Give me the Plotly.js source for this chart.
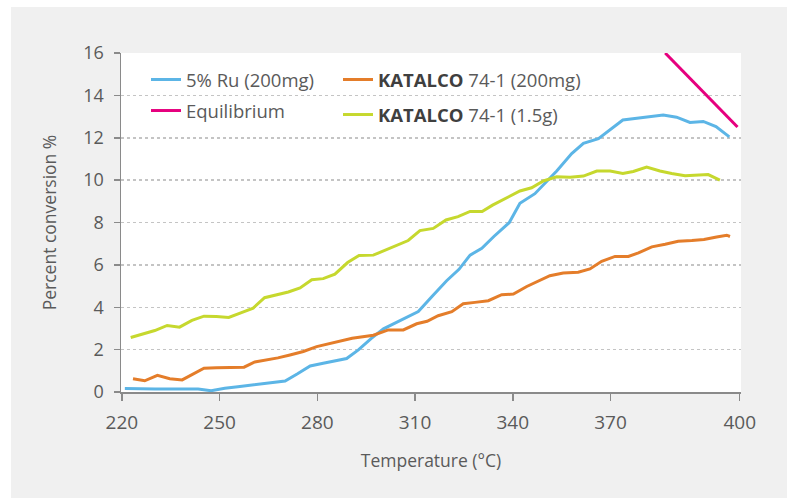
<!DOCTYPE html>
<html>
<head>
<meta charset="utf-8">
<script src="https://cdn.plot.ly/plotly-3.0.1.min.js"></script>
<style>
  html, body { margin: 0; padding: 0; background: #ffffff; width: 787px; height: 498px; overflow: hidden; }
  #chart { position: absolute; left: 11px; top: 7px; width: 776px; height: 491px; }
</style>
</head>
<body>
<div id="chart"></div>
<script>
// ---- Data ----
const ruTemp = [220.9,225.6,230.2,234.8,239.4,243.4,247.4,251.6,255.6,259.7,263.8,270.1,273.8,277.8,281.8,285.4,289.0,292.6,296.5,300.3,303.9,307.4,311.0,315.2,319.7,323.5,326.9,330.5,334.2,338.9,342.2,346.8,349.9,353.5,358.1,361.7,366.3,369.9,373.8,378.1,382.1,386.2,390.3,394.4,398.5,402.4,406.5];
const ruConv = [0.16,0.14,0.14,0.14,0.14,0.14,0.06,0.18,0.25,0.33,0.41,0.52,0.85,1.23,1.36,1.47,1.58,1.99,2.52,2.98,3.25,3.53,3.80,4.51,5.25,5.79,6.46,6.78,7.34,7.99,8.91,9.36,9.85,10.43,11.25,11.74,11.96,12.37,12.84,12.92,12.98,13.07,12.97,12.72,12.77,12.53,12.04];

const k200Temp = [223.4,227.0,230.9,234.7,238.5,241.8,245.2,249.0,253.1,257.5,260.8,264.3,267.9,271.6,275.7,279.8,284.4,290.7,297.2,301.8,306.4,310.5,313.7,317.1,321.3,324.8,328.4,332.5,336.6,340.2,344.3,347.8,351.4,355.5,360.1,363.7,367.3,371.4,375.5,378.6,382.7,386.8,390.8,395.0,398.7,402.6,405.7,406.7];
const k200Conv = [0.63,0.53,0.79,0.63,0.57,0.85,1.12,1.14,1.17,1.17,1.42,1.51,1.61,1.75,1.91,2.14,2.31,2.54,2.68,2.93,2.93,3.22,3.34,3.60,3.79,4.17,4.23,4.31,4.59,4.62,4.98,5.25,5.49,5.62,5.65,5.81,6.17,6.40,6.40,6.57,6.85,6.97,7.11,7.15,7.20,7.32,7.40,7.34];

const k15Temp = [222.7,226.5,230.1,233.9,237.7,241.5,245.2,249.0,252.8,256.7,260.3,263.8,267.9,271.1,274.7,278.3,281.8,285.4,289.3,292.8,297.2,301.1,304.4,307.9,311.5,315.6,319.5,323.2,326.9,330.6,333.8,338.1,342.2,345.8,349.4,353.5,357.6,361.7,365.8,369.9,373.8,377.0,381.1,385.2,388.8,392.9,396.5,400.0,403.6];
const k15Conv = [2.57,2.75,2.90,3.14,3.06,3.38,3.58,3.56,3.52,3.75,3.96,4.45,4.61,4.72,4.91,5.30,5.35,5.56,6.11,6.44,6.46,6.71,6.90,7.15,7.62,7.72,8.12,8.28,8.52,8.52,8.82,9.17,9.49,9.64,9.96,10.16,10.14,10.19,10.43,10.43,10.31,10.41,10.62,10.43,10.31,10.21,10.24,10.26,10.00];

const eqTemp = [386.8, 409.0];
const eqConv = [16.0, 12.51];

const xTickLabels = ['220','250','280','310','340','370','400'];
const yTickLabels = ['0','2','4','6','8','10','12','14','16'];

const seriesNames = ['5% Ru (200mg)', 'Equilibrium', '<b><span style="color:#3f3f3f">KATALCO</span></b> 74-1 (200mg)', '<b><span style="color:#3f3f3f">KATALCO</span></b> 74-1 (1.5g)'];

// ---- Styling ----
const FONT = '"Open Sans", "Noto Sans", sans-serif';
const TXT = '#5a5a5a';
const AX = '#8a8a8a';

const traces = [
  {x: ruTemp, y: ruConv, name: seriesNames[0], mode: 'lines', line: {color: '#5cb5e6', width: 3}, legend: 'legend'},
  {x: eqTemp, y: eqConv, name: seriesNames[1], mode: 'lines', line: {color: '#e6007e', width: 3}, legend: 'legend2'},
  {x: k200Temp, y: k200Conv, name: seriesNames[2], mode: 'lines', line: {color: '#e47d2a', width: 3}, legend: 'legend3'},
  {x: k15Temp, y: k15Conv, name: seriesNames[3], mode: 'lines', line: {color: '#c6d82e', width: 3}, legend: 'legend4'}
];

const legBase = {bgcolor: 'rgba(0,0,0,0)', borderwidth: 0, font: {family: FONT, size: 18.5, color: TXT},
                 xanchor: 'left', yanchor: 'middle', orientation: 'v'};

const layout = {
  width: 776, height: 491,
  margin: {l: 110, r: 46, t: 46, b: 106, pad: 0},
  paper_bgcolor: '#f0f0f0',
  plot_bgcolor: '#ffffff',
  font: {family: FONT, color: TXT, size: 16},
  showlegend: true,
  xaxis: {
    range: [219.72, 410.08],
    tickmode: 'array',
    tickvals: [220, 250, 280, 310, 340, 370, 409.68],
    ticktext: xTickLabels,
    showgrid: false, zeroline: false,
    showline: true, linecolor: AX, linewidth: 1.5,
    ticks: 'outside', ticklen: 7, tickwidth: 1.5, tickcolor: AX,
    tickfont: {family: FONT, size: 19, color: TXT},
    ticklabelstandoff: 6,
    title: {text: 'Temperature (°C)', font: {family: FONT, size: 17.5, color: TXT}, standoff: 20}
  },
  yaxis: {
    range: [0, 16],
    tickmode: 'array',
    tickvals: [0,2,4,6,8,10,12,14,16],
    ticktext: yTickLabels,
    showgrid: true, gridcolor: '#c4c4c4', gridwidth: 1.5, griddash: 'dot',
    zeroline: false,
    showline: true, linecolor: AX, linewidth: 1.5,
    ticks: 'outside', ticklen: 6, tickwidth: 1.5, tickcolor: AX,
    tickfont: {family: FONT, size: 18, color: TXT},
    ticklabelstandoff: 6,
    title: {text: 'Percent conversion %', font: {family: FONT, size: 17.5, color: TXT}, standoff: 22}
  },
  legend:  Object.assign({}, legBase, {x: 0.0403, y: 0.9204}),
  legend2: Object.assign({}, legBase, {x: 0.0403, y: 0.8289}),
  legend3: Object.assign({}, legBase, {x: 0.35, y: 0.9204}),
  legend4: Object.assign({}, legBase, {x: 0.35, y: 0.8171})
};

Plotly.newPlot('chart', traces, layout, {displayModeBar: false, staticPlot: true});
</script>
</body>
</html>
